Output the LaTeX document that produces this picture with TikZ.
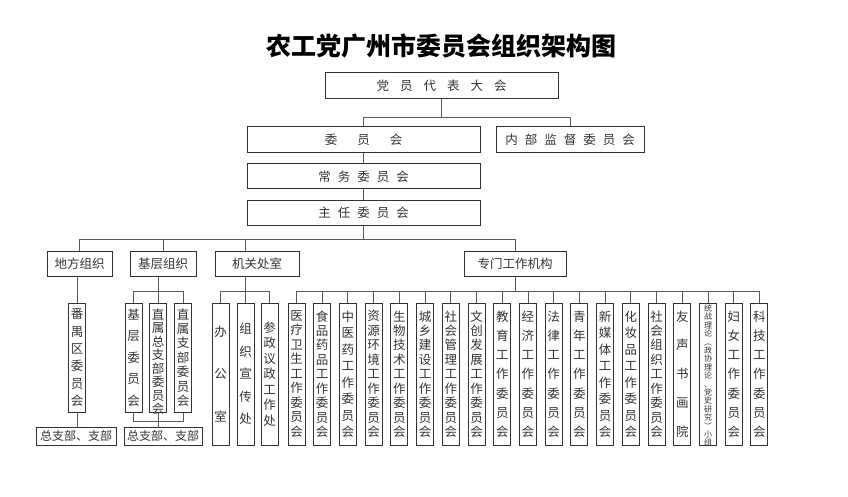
\documentclass[tikz,border=0pt]{standalone}
\usepackage{fontspec}
\setmainfont{Noto Sans CJK SC}
\usetikzlibrary{positioning}
\definecolor{bx}{HTML}{333333}
\definecolor{lc}{HTML}{5a5a5a}
\makeatletter
\def\vt@a#1#2{#1\ifx#2\@nil\else\par\vfill\expandafter\vt@a\expandafter#2\fi}
\newcommand\vcol[2]{\parbox[c][#1][s]{16pt}{\centering\expandafter\vt@a#2\@nil}}
\def\sp@a#1#2{#1\ifx#2\@nil\else\hspace{\sp@w}\expandafter\sp@a\expandafter#2\fi}
\newcommand\spread[2]{\def\sp@w{#1}\sp@a#2\@nil}
\makeatother

\begin{document}
\begin{tikzpicture}[x=1pt,y=-1pt,
	box/.style={draw=bx, line width=1pt, minimum height=25pt, inner sep=0pt, text=bx, font=\fontsize{12.5}{13}\selectfont},
	col/.style={draw=bx, line width=1pt, minimum width=17pt, minimum height=#1, inner sep=0pt, text=bx, font=\fontsize{12.5}{13.5}\selectfont},
	ln/.style={draw=lc, line width=0.9pt}]
	\useasboundingbox (0,0) rectangle (848,497);
	
	\node[font=\bfseries\fontsize{25}{25}\selectfont] (tt) at (441.5,46) {农工党广州市委员会组织架构图};
	
	\node[box, minimum width=233pt, minimum height=26pt] (dh) at (441.5,86) {\spread{11pt}{党员代表大会}};
	\node[box, minimum width=233pt, minimum height=26pt] (wy) at (363.5,140) {\spread{20pt}{委员会}};
	\node[box, minimum width=148pt, minimum height=26pt, right=15pt of wy] (jd) {\spread{7pt}{内部监督委员会}};
	\node[box, minimum width=233pt, below=10pt of wy] (cw) {\spread{7pt}{常务委员会}};
	\node[box, minimum width=233pt, below=10pt of cw] (zr) {\spread{7pt}{主任委员会}};
	
	\node[box, minimum width=65pt] (df) at (79.5,263.5) {地方组织};
	\node[box, minimum width=66pt, right=17pt of df] (jc) {基层组织};
	\node[box, minimum width=84pt, right=18pt of jc] (jg) {机关处室};
	\node[box, minimum width=102pt] (zm) at (515,263.5) {专门工作机构};
	
	\node[col=109pt] (py) at (77,357.5) {\vcol{97pt}{番禺区委员会}};
	\node[col=109pt] (j1) at (133.5,357.5) {\vcol{97pt}{基层委员会}};
	\node[col=109pt] (j2) at (158,357.5) {\vcol{97pt}{直属总支部委员会}};
	\node[col=109pt] (j3) at (183,357.5) {\vcol{97pt}{直属支部委员会}};
	\node[col=142pt] (k1) at (220.5,374) {\vcol{96pt}{办公室}};
	\node[col=142pt] (k2) at (245.5,374) {\vcol{100pt}{组织宣传处}};
	\node[col=142pt] (k3) at (269.5,374) {\vcol{104pt}{参政议政工作处}};
	
	\node[box, minimum width=80pt, minimum height=18pt, font=\fontsize{12}{12}\selectfont] (z1) at (76,436) {总支部、支部};
	\node[box, minimum width=78pt, minimum height=18pt, font=\fontsize{12}{12}\selectfont] (z2) at (163,436) {总支部、支部};
	
	\coordinate (b0) at (0,117);
	\coordinate (b1) at (0,239);
	\coordinate (b2) at (0,291);
	\coordinate (b3) at (0,421);
	
	\foreach \t [count=\i from 0] in {医疗卫生工作委员会,食品药品工作委员会,中医药工作委员会,资源环境工作委员会,
		生物技术工作委员会,城乡建设工作委员会,社会管理工作委员会,文创发展工作委员会,教育工作委员会,
		经济工作委员会,法律工作委员会,青年工作委员会,新媒体工作委员会,化妆品工作委员会,
		社会组织工作委员会,友声书画院,统战理论︵政协理论、党史研究︶小组,妇女工作委员会,科技工作委员会}{
		\node[col=142pt] (s\i) at ({296.5+25.72*\i},374) {\ifnum\i=16 \fontsize{8}{8.4}\selectfont\vcol{138pt}{\t}\else\vcol{126pt}{\t}\fi};
		\draw[ln] (s\i.north) -- (s\i.north |- b2);
	}
	
	\draw[ln] (dh.south) -- (dh.south |- b0);
	\draw[ln] (wy.north) -- (wy.north |- b0) -| (jd.north);
	\draw[ln] (wy.south) -- (cw.north) (cw.south) -- (zr.north) (zr.south) -- (zr.south |- b1);
	\draw[ln] (df.north) -- (df.north |- b1) -| (zm.north);
	\draw[ln] (jc.north) -- (jc.north |- b1);
	\draw[ln] (k2 |- jg.north) -- (k2 |- b1);
	
	\draw[ln] (py |- df.south) -- (py.north) (py.south) -- (py |- z1.north);
	\draw[ln] (j2 |- jc.south) -- (j2.north) (j1.north) -- (j1.north |- b2) -| (j3.north);
	\draw[ln] (j1.south) -- (j1.south |- b3) -| (j3.south) (j2.south) -- (j2 |- z2.north);
	\draw[ln] (k2 |- jg.south) -- (k2.north) (k1.north) -- (k1.north |- b2) -| (k3.north);
	\draw[ln] (zm.south) -- (zm.south |- b2) (s0.north) -- (s0.north |- b2) -| (s18.north);
\end{tikzpicture}
\end{document}
